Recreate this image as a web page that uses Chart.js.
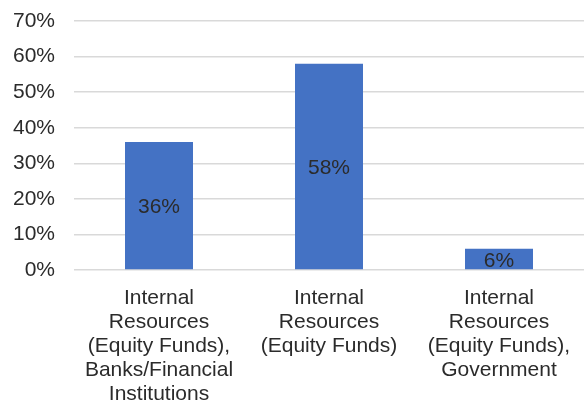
<!DOCTYPE html>
<html>
<head>
<meta charset="utf-8">
<script src="https://cdn.jsdelivr.net/npm/chart.js@4/dist/chart.umd.min.js"></script>
<style>
  html, body { margin: 0; padding: 0; background: #ffffff; }
  #wrap { width: 584px; height: 402px; position: relative; }
</style>
</head>
<body>
<div id="wrap"><canvas id="chart"></canvas></div>
<script>
// Funding sources (multi-line category labels)
const categories = [
  ["Internal", "Resources", "(Equity Funds),", "Banks/Financial", "Institutions"],
  ["Internal", "Resources", "(Equity Funds)"],
  ["Internal", "Resources", "(Equity Funds),", "Government"]
];
// Share of respondents, in percent
const shares = [36, 58, 6];
// Y axis range and step, in percent
const yMin = 0;
const yMax = 70;
const yStep = 10;

const textColor = "#2b2b2b";
const fontFamily = "'Liberation Sans', Arial, sans-serif";

// Writes each bar's value in the middle of the bar
const barValueLabels = {
  id: "barValueLabels",
  afterDatasetsDraw(chart) {
    const ctx = chart.ctx;
    const meta = chart.getDatasetMeta(0);
    ctx.save();
    ctx.font = "21px " + fontFamily;
    ctx.fillStyle = textColor;
    ctx.textAlign = "center";
    ctx.textBaseline = "middle";
    meta.data.forEach((bar, i) => {
      const mid = (bar.y + bar.base) / 2;
      ctx.fillText(shares[i] + "%", bar.x, mid + 2);
    });
    ctx.restore();
  }
};

new Chart(document.getElementById("chart"), {
  type: "bar",
  data: {
    labels: categories,
    datasets: [{
      data: shares,
      backgroundColor: "#4472C4",
      borderWidth: 0,
      categoryPercentage: 1.0,
      barPercentage: 0.4
    }]
  },
  options: {
    responsive: true,
    maintainAspectRatio: false,
    animation: false,
    layout: { padding: { top: 21, right: 0, bottom: 0, left: 0 } },
    plugins: {
      legend: { display: false },
      tooltip: { enabled: false }
    },
    scales: {
      x: {
        grid: { display: false, drawTicks: false },
        border: { display: false },
        ticks: {
          color: textColor,
          font: { family: fontFamily, size: 21, lineHeight: 1.15 },
          padding: 16,
          maxRotation: 0,
          autoSkip: false
        },
        afterFit(scale) {
          scale.height = 132;
          scale.paddingLeft = 0;
          scale.paddingRight = 0;
        }
      },
      y: {
        min: yMin,
        max: yMax,
        grid: { color: "#d9d9d9", lineWidth: 1.5, drawTicks: false },
        border: { display: false },
        ticks: {
          stepSize: yStep,
          color: textColor,
          font: { family: fontFamily, size: 21 },
          padding: 19,
          callback: (v) => v + "%"
        },
        afterFit(scale) {
          scale.width = 74;
          scale.paddingTop = 0;
          scale.paddingBottom = 0;
        }
      }
    }
  },
  plugins: [barValueLabels]
});
</script>
</body>
</html>
